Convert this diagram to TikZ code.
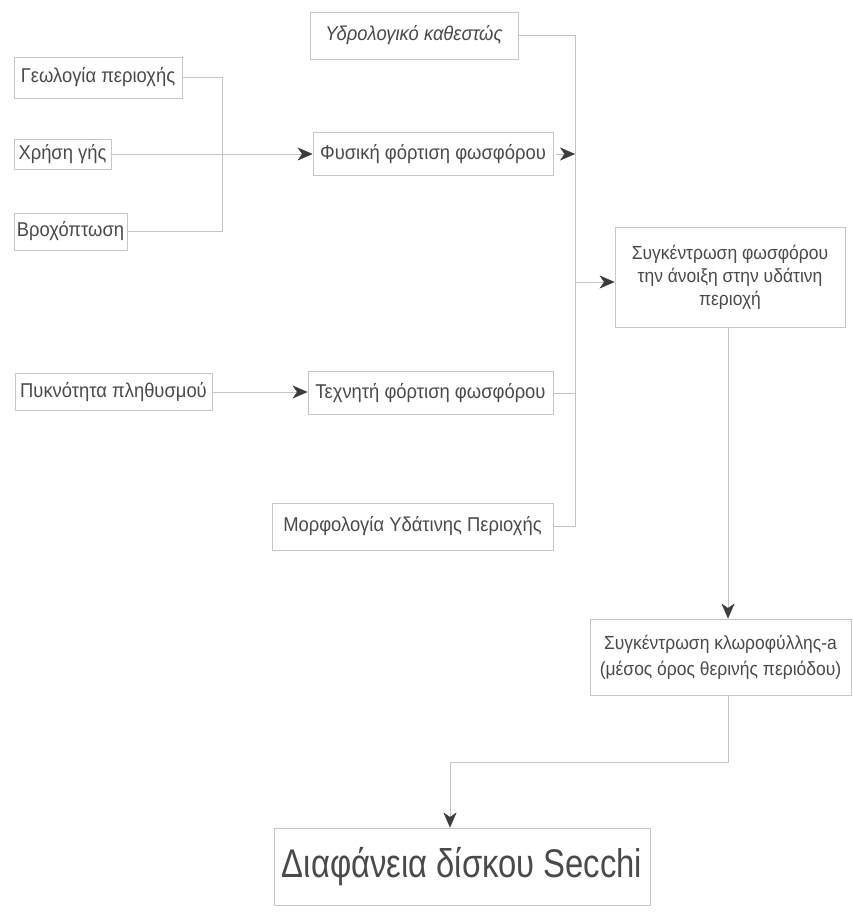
\documentclass[tikz,border=0pt]{standalone}
\usepackage{fontspec}
\setmainfont{Liberation Sans}
\newfontfamily\boxfont[FakeStretch=0.92]{Liberation Sans}
\newfontfamily\bigfont[FakeStretch=0.82]{Liberation Sans}
\usetikzlibrary{arrows.meta}
\definecolor{txtc}{HTML}{4A4A4A}
\definecolor{linec}{HTML}{C4C4C4}
\definecolor{boxc}{HTML}{C6C6C6}
\definecolor{tipc}{HTML}{3C3C3C}
\tikzset{
  fbox/.style={draw=boxc, line width=0.9pt, inner sep=0pt, align=center,
    text=txtc, font=\boxfont\fontsize{20}{23}\selectfont},
  conn/.style={draw=linec, line width=0.9pt},
  arr/.style={conn, -{Stealth[length=15pt,width=13pt,inset=4.5pt,color=tipc,fill=tipc,line width=0.4pt]}}
}
\begin{document}
\begin{tikzpicture}[x=1pt,y=-1pt]
\useasboundingbox (0,0) rectangle (852,917);
\fill[white] (0,0) rectangle (852,917);

\node[fbox, minimum width=168pt, minimum height=41pt] (geo) at (98,77.5) {Γεωλογία περιοχής};
\node[fbox, minimum width=97pt, minimum height=30pt] (xr) at (62.5,154) {Χρήση γής};
\node[fbox, minimum width=113pt, minimum height=37pt] (bro) at (70.5,231.5) {Βροχόπτωση};
\node[fbox, minimum width=208pt, minimum height=47pt, font=\boxfont\itshape\fontsize{20}{23}\selectfont] (hyd) at (414,35.5) {Υδρολογικό καθεστώς};
\node[fbox, minimum width=240pt, minimum height=43pt] (fys) at (433,154) {Φυσική φόρτιση φωσφόρου};
\node[fbox, minimum width=230pt, minimum height=100pt, font=\boxfont\fontsize{19}{23}\selectfont] (syg) at (730,277) {Συγκέντρωση φωσφόρου\\την άνοιξη στην υδάτινη\\περιοχή};
\node[fbox, minimum width=197pt, minimum height=37pt] (pyk) at (113.5,392) {Πυκνότητα πληθυσμού};
\node[fbox, minimum width=245pt, minimum height=43pt] (tex) at (430.5,393) {Τεχνητή φόρτιση φωσφόρου};
\node[fbox, minimum width=281pt, minimum height=47pt] (mor) at (412.5,526.5) {Μορφολογία Υδάτινης Περιοχής};
\node[fbox, minimum width=261pt, minimum height=76pt, font=\boxfont\fontsize{19}{26}\selectfont] (chl) at (720.5,657) {Συγκέντρωση κλωροφύλλης-a\\(μέσος όρος θερινής περιόδου)};
\node[fbox, minimum width=376pt, minimum height=77pt, font=\bigfont\fontsize{40}{44}\selectfont] (dia) at (462,866.5) {Διαφάνεια δίσκου Secchi};

\coordinate (j1) at (222,154);
\coordinate (vx) at (575,282);
\coordinate (b1) at (728,762);
\coordinate (b2) at (450,762);

% left bracket
\draw[conn] (geo.east) -| (j1);
\draw[conn] (bro.east) -| (j1);
\draw[arr] (xr.east) -- (xr.east -| fys.west);

% collector line
\draw[conn] (hyd.east) -| (vx);
\draw[conn] (mor.east) -| (vx);
\draw[conn] (tex.east) -- (tex.east -| vx);
\draw[arr] ([xshift=3pt]fys.east) -- (fys.east -| vx);
\draw[arr] (vx) -- (vx -| syg.west);

\draw[arr] (pyk.east) -- (pyk.east -| tex.west);

\draw[arr] (syg.south -| b1) -- (b1 |- chl.north);
\draw[conn] (chl.south -| b1) -- (b1) -- (b2);
\draw[arr] (b2) -- (b2 |- dia.north);
\end{tikzpicture}
\end{document}
